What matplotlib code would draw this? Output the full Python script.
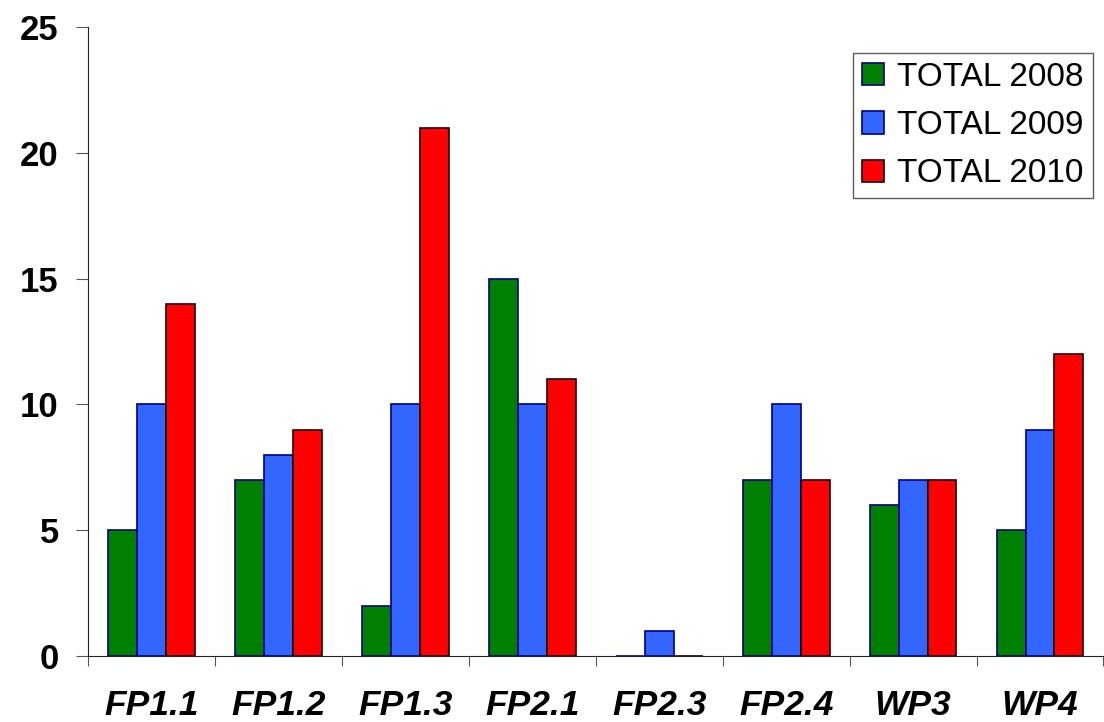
import numpy as np
import matplotlib
matplotlib.use('Agg')
import matplotlib.pyplot as plt

categories = ['FP1.1', 'FP1.2', 'FP1.3', 'FP2.1', 'FP2.3', 'FP2.4', 'WP3', 'WP4']
total_2008 = [5, 7, 2, 15, 0, 7, 6, 5]
total_2009 = [10, 8, 10, 10, 1, 10, 7, 9]
total_2010 = [14, 9, 21, 11, 0, 7, 7, 12]
series_names = ['TOTAL 2008', 'TOTAL 2009', 'TOTAL 2010']

plt.rcParams['font.family'] = ['Liberation Sans', 'DejaVu Sans']

fig = plt.figure(figsize=(11.04, 7.22), dpi=100)
ax = fig.add_axes([88 / 1104, 1 - 656 / 722, 1 - 88 / 1104 - 0.0005, (656 - 27) / 722])

x = np.arange(len(categories))
w = 0.228
series = [total_2008, total_2009, total_2010]
colors = ['#008000', '#3366FF', '#FF0000']
edges = ['#000080', '#000080', '#1a0000']
for i, (vals, col, ec, name) in enumerate(zip(series, colors, edges, series_names)):
	ax.bar(x + (i - 1) * w, vals, w, color=col, edgecolor=ec, linewidth=1.2, label=name, zorder=2)

ax.set_xlim(-0.5, len(categories) - 0.5)
ax.set_ylim(0, 25)
ax.set_yticks([0, 5, 10, 15, 20, 25])
ax.set_yticklabels(['0', '5', '10', '15', '20', '25'], fontsize=25, fontweight='bold')

# ticks on the category boundaries, labels in the middle
ax.set_xticks(np.arange(len(categories) + 1) - 0.5)
ax.set_xticklabels([])
ax.set_xticks(x, minor=True)
ax.set_xticklabels(categories, minor=True, fontsize=25.5, fontweight='bold', style='italic')
ax.tick_params(axis='x', which='minor', length=0, pad=24)
ax.tick_params(axis='x', which='major', length=7, direction='out', color='#555555')
ax.tick_params(axis='y', length=9, direction='out', pad=12, color='#555555')

for side in ['top', 'right']:
	ax.spines[side].set_visible(False)
ax.spines['left'].set_color('#222222')
ax.spines['bottom'].set_color('#222222')

leg = ax.legend(loc='upper right', bbox_to_anchor=(0.9895, 0.959), fontsize=24,
				frameon=True, fancybox=False, edgecolor='#333333',
				handlelength=0.66, handleheight=0.66, handletextpad=0.39,
				labelspacing=0.52, borderpad=0.27, borderaxespad=0)
leg.get_frame().set_linewidth(1.0)

fig.savefig('out.png', dpi=100)
